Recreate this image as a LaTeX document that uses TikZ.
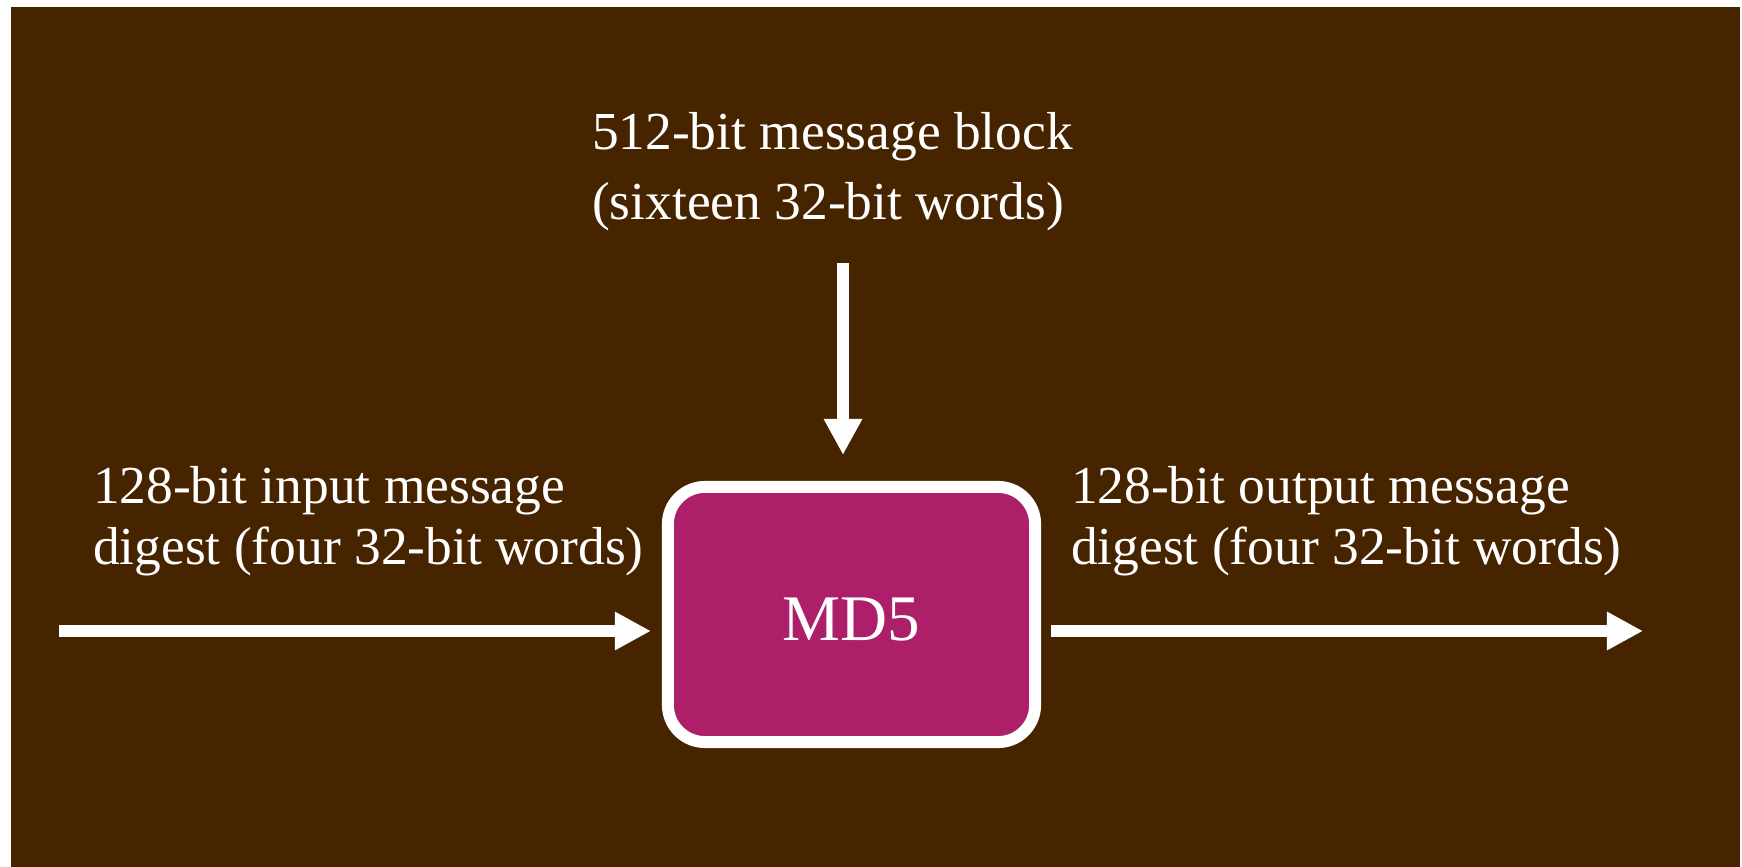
\documentclass[tikz,border=0pt]{standalone}
\usepackage{fontspec}
\setmainfont{Liberation Serif}
\usetikzlibrary{arrows.meta}
\definecolor{bgbrown}{HTML}{472400}
\definecolor{boxmag}{HTML}{AD1F69}
\begin{document}
\begin{tikzpicture}[x=0.01cm,y=-0.01cm,
  lbl/.style={text=white,inner sep=0pt,outer sep=0pt,anchor=north west,align=left},
  mdbox/.style={draw=white,line width=3.4pt,fill=boxmag,rounded corners=0.37cm,minimum width=3.67cm,minimum height=2.55cm,text=white,text height=14.8pt,text depth=0pt,font=\fontsize{18.5}{22}\selectfont},
  flow/.style={draw=white,line width=3.4pt,-{Triangle[length=0.36cm,width=0.36cm]}}]
\useasboundingbox (0,0) rectangle (1742,867);
\fill[bgbrown] (11,7) rectangle (1740,867);
\node[mdbox] (md5) at (851.5,614.5) {MD5};
\node[lbl,font=\fontsize{15.2}{19.9}\selectfont] (toplbl) at (592,112) {512-bit message block\\(sixteen 32-bit words)};
\node[lbl,font=\fontsize{15.2}{17.4}\selectfont] (inlbl) at (93,466) {128-bit input message\\digest (four 32-bit words)};
\node[lbl,font=\fontsize{15.2}{17.4}\selectfont] (outlbl) at (1071,466) {128-bit output message\\digest (four 32-bit words)};
\coordinate (inS) at (59,631);
\coordinate (topS) at (843,263);
\coordinate (outE) at (1643,631);
\draw[flow,shorten >=0.11cm] (inS) -- (inS -| md5.west);
\draw[flow,shorten >=0.26cm] (topS) -- (topS |- md5.north);
\draw[flow,shorten <=0.10cm] (outE -| md5.east) -- (outE);
\end{tikzpicture}
\end{document}
